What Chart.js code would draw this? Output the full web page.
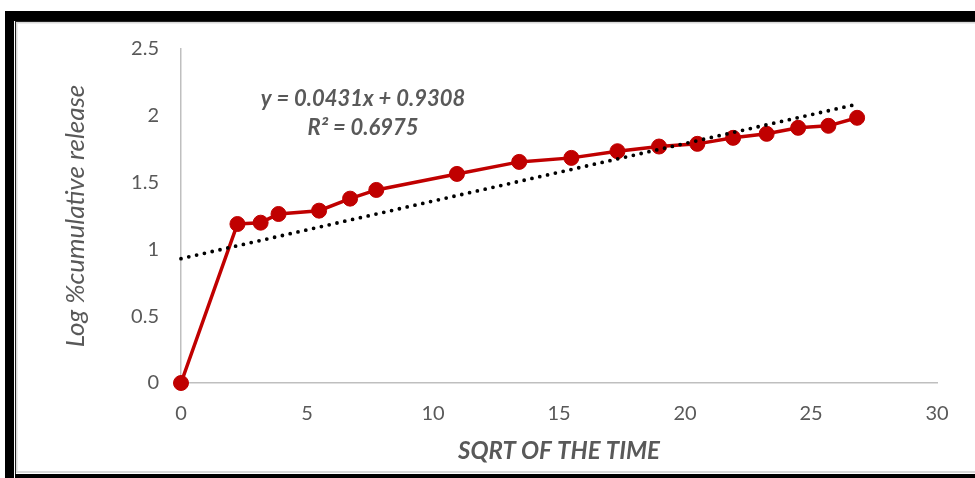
<!DOCTYPE html>
<html>
<head>
<meta charset="utf-8">
<script src="https://cdn.jsdelivr.net/npm/chart.js@4/dist/chart.umd.min.js"></script>
<style>
  html, body { margin: 0; padding: 0; background: #fff; }
  #wrap { width: 975px; height: 478px; position: relative; }
</style>
</head>
<body>
<div id="wrap"><canvas id="c" width="975" height="478"></canvas></div>
<script>
// Square root of time (x) and log % cumulative release (y)
const sqrtTime = [0, 2.24, 3.16, 3.87, 5.48, 6.71, 7.75, 10.95, 13.42, 15.49, 17.32, 18.97, 20.49, 21.91, 23.24, 24.49, 25.69, 26.83];
const logRelease = [0, 1.19, 1.20, 1.265, 1.29, 1.38, 1.445, 1.565, 1.655, 1.685, 1.735, 1.77, 1.79, 1.835, 1.865, 1.91, 1.925, 1.985];

// Linear trendline as printed on the chart
const trendSlope = 0.0431;
const trendIntercept = 0.9308;
const trendR2 = 0.6975;
const trendRange = [0, 26.9];

const xTicks = [0, 5, 10, 15, 20, 25, 30];
const yTicks = [0, 0.5, 1, 1.5, 2, 2.5];

const FONT = 'Lato, "Open Sans", sans-serif';
const GREY = '#595959';
const RED = '#C00000';

const seriesPoints = sqrtTime.map((x, i) => ({ x, y: logRelease[i] }));
const trendPoints = trendRange.map(x => ({ x, y: trendSlope * x + trendIntercept }));

// Page frame around the chart
const framePlugin = {
  id: 'frame',
  beforeDraw(chart) {
    const ctx = chart.ctx;
    ctx.save();
    ctx.fillStyle = '#fff';
    ctx.fillRect(0, 0, chart.width, chart.height);
    ctx.fillStyle = '#000';
    ctx.fillRect(5, 11, chart.width - 5, 10);   // top band
    ctx.fillRect(5, 11, 9, chart.height - 11);  // left band
    ctx.fillRect(15, 474, chart.width - 15, 4); // bottom band
    ctx.fillStyle = '#222';
    ctx.fillRect(15, 21, chart.width - 15, 1);
    ctx.fillRect(15, 21, 1, 453);
    ctx.fillStyle = '#d9d9d9';
    ctx.fillRect(16, 22, chart.width - 16, 1.5);
    ctx.fillRect(16, 22, 1.5, 450);
    ctx.fillRect(16, 471, chart.width - 16, 2);
    ctx.restore();
  }
};

// Trendline equation label
const equationPlugin = {
  id: 'equation',
  afterDatasetsDraw(chart) {
    const ctx = chart.ctx;
    ctx.save();
    ctx.fillStyle = GREY;
    ctx.font = 'italic bold 22px ' + FONT;
    ctx.textAlign = 'center';
    ctx.textBaseline = 'middle';
    ctx.fillText('y = ' + trendSlope + 'x + ' + trendIntercept, 363, 99);
    ctx.fillText('R\u00B2 = ' + trendR2, 363, 128);
    ctx.restore();
  }
};

new Chart(document.getElementById('c'), {
  type: 'scatter',
  data: {
    datasets: [
      {
        label: 'Linear',
        data: trendPoints,
        showLine: true,
        borderColor: '#000',
        borderWidth: 3.8,
        borderDash: [0, 8],
        borderCapStyle: 'round',
        pointRadius: 0,
        fill: false,
        order: 0,
        clip: false
      },
      {
        label: 'Log %cumulative release',
        data: seriesPoints,
        showLine: true,
        borderColor: RED,
        borderWidth: 3.5,
        backgroundColor: RED,
        pointBackgroundColor: RED,
        pointBorderColor: RED,
        pointRadius: 7.5,
        pointBorderWidth: 1,
        tension: 0,
        order: 1,
        clip: false
      }
    ]
  },
  options: {
    responsive: false,
    animation: false,
    events: [],
    layout: { padding: { left: 0, right: 38, top: 49, bottom: 0 } },
    plugins: { legend: { display: false }, tooltip: { enabled: false } },
    scales: {
      x: {
        type: 'linear',
        min: 0, max: 30,
        afterBuildTicks(scale) { scale.ticks = xTicks.map(v => ({ value: v })); },
        afterFit(scale) { scale.height = 95; },
        grid: { display: false, drawTicks: false },
        border: { display: true, color: '#BFBFBF', width: 1.5 },
        ticks: { color: GREY, font: { family: FONT, size: 20 }, padding: 19, maxRotation: 0,
                 callback: v => String(v) },
        title: {
          display: true,
          text: 'SQRT OF THE TIME',
          color: GREY,
          font: { family: FONT, size: 24, style: 'italic', weight: 'bold' },
          padding: { top: 0, bottom: 12 }
        }
      },
      y: {
        type: 'linear',
        min: 0, max: 2.5,
        afterBuildTicks(scale) { scale.ticks = yTicks.map(v => ({ value: v })); },
        afterFit(scale) { scale.width = 181; },
        grid: { display: false, drawTicks: false },
        border: { display: true, color: '#BFBFBF', width: 1.5 },
        ticks: { color: GREY, font: { family: FONT, size: 20 }, padding: 22,
                 callback: v => String(v) },
        title: {
          display: true,
          text: 'Log %cumulative release',
          color: GREY,
          font: { family: FONT, size: 26, style: 'italic' },
          padding: { top: 60, bottom: 0 }
        }
      }
    }
  },
  plugins: [framePlugin, equationPlugin]
});
</script>
</body>
</html>
